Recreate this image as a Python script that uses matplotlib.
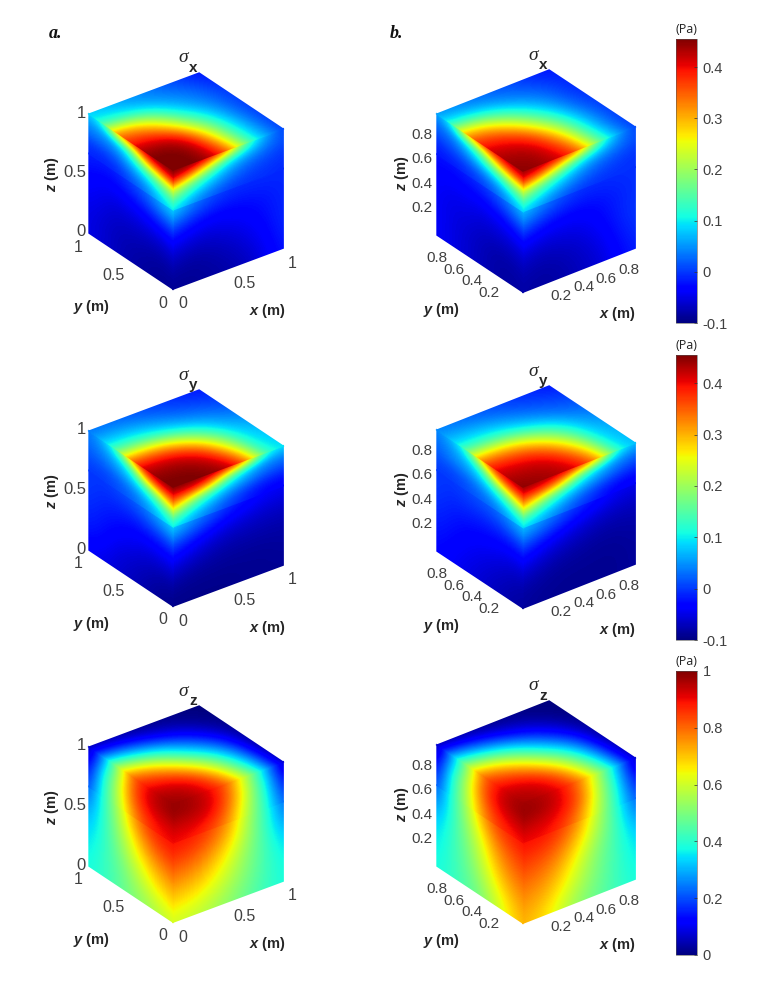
import matplotlib
matplotlib.use('Agg')
import matplotlib.pyplot as plt
import numpy as np
from matplotlib.cm import ScalarMappable
from matplotlib.colors import Normalize
from matplotlib.patches import Polygon
from matplotlib.transforms import Affine2D

plt.rcParams['font.family'] = ['Liberation Sans', 'DejaVu Sans']
plt.rcParams['mathtext.fontset'] = 'custom'
plt.rcParams['mathtext.bfit'] = 'Liberation Sans:italic:bold'
plt.rcParams['mathtext.rm'] = 'Liberation Sans:bold'

# stress read off each visible face
# side faces: rows z = 0,1/6,1/3,1/2,2/3,3/4,5/6,11/12,1 (upper part read finer)
# top faces: rows y = 0..1 in sixths; columns always in sixths
a_sx_right = [[-.09,-.09,-.085,-.08,-.07,-.045,-.02],
              [-.08,-.085,-.08,-.07,-.055,-.035,-.01],
              [-.05,-.06,-.06,-.05,-.04,-.025,-.01],
              [0,-.02,-.03,-.03,-.025,-.02,-.01],
              [.10,.05,.02,0,-.005,-.005,-.01],
              [.16,.10,.06,.03,.01,0,-.005],
              [.25,.17,.11,.06,.03,.015,0],
              [.41,.35,.23,.12,.08,.04,.01],
              [.46,.46,.43,.34,.15,.06,0]]
a_sx_left = [[-.09,-.09,-.085,-.08,-.07,-.06,-.05],
             [-.08,-.085,-.08,-.075,-.07,-.06,-.05],
             [-.05,-.06,-.06,-.06,-.06,-.05,-.04],
             [0,-.01,-.025,-.035,-.04,-.04,-.03],
             [.10,.07,.03,.01,-.01,-.015,-.01],
             [.16,.11,.07,.04,.01,0,0],
             [.25,.19,.13,.085,.04,.03,.03],
             [.41,.36,.30,.15,.09,.06,.05],
             [.46,.46,.44,.38,.32,.12,.08]]
a_sx_top = [[.46,.46,.43,.34,.15,.06,0],
            [.46,.46,.43,.31,.14,.06,0],
            [.44,.44,.40,.26,.13,.05,0],
            [.38,.37,.30,.18,.10,.04,0],
            [.32,.28,.20,.11,.06,.03,0],
            [.12,.11,.09,.06,.04,.02,-.01],
            [.08,.07,.05,.04,.02,0,-.02]]

b_sx_right = [[-.08,-.085,-.08,-.07,-.06,-.035,-.015],
              [-.075,-.08,-.075,-.065,-.05,-.025,-.005],
              [-.05,-.06,-.055,-.05,-.035,-.015,0],
              [0,-.02,-.03,-.03,-.025,-.015,-.005],
              [.09,.05,.02,0,-.005,-.005,-.005],
              [.15,.10,.06,.03,.01,0,-.005],
              [.24,.17,.11,.06,.03,.015,0],
              [.39,.34,.23,.13,.08,.04,.01],
              [.45,.44,.41,.34,.16,.06,0]]
b_sx_left = [[-.08,-.085,-.08,-.07,-.06,-.05,-.04],
             [-.075,-.08,-.08,-.07,-.06,-.05,-.04],
             [-.05,-.06,-.06,-.06,-.05,-.05,-.04],
             [0,-.02,-.035,-.04,-.04,-.04,-.035],
             [.09,.05,.02,0,-.01,-.02,-.02],
             [.15,.10,.06,.03,.01,0,-.01],
             [.24,.19,.13,.09,.05,.02,.01],
             [.39,.35,.28,.16,.10,.05,.03],
             [.45,.44,.42,.38,.30,.11,.05]]
b_sx_top = [[.45,.44,.41,.34,.16,.06,0],
            [.44,.44,.40,.31,.15,.05,0],
            [.42,.41,.37,.26,.13,.05,0],
            [.38,.36,.29,.18,.10,.03,0],
            [.30,.26,.18,.11,.06,.02,-.01],
            [.11,.10,.08,.05,.03,.01,-.01],
            [.05,.04,.03,.02,.01,-.01,-.02]]

a_sy_right = [[-.095,-.095,-.095,-.095,-.09,-.09,-.09],
              [-.085,-.09,-.09,-.09,-.09,-.09,-.085],
              [-.05,-.065,-.075,-.08,-.08,-.08,-.08],
              [0,-.02,-.04,-.055,-.06,-.065,-.065],
              [.10,.06,.03,0,-.02,-.035,-.04],
              [.17,.11,.07,.03,0,-.02,-.02],
              [.30,.20,.13,.08,.05,.02,.01],
              [.39,.39,.33,.17,.09,.05,.04],
              [.46,.46,.45,.43,.33,.12,.09]]
a_sy_left = [[-.095,-.09,-.08,-.07,-.06,-.05,-.04],
             [-.085,-.08,-.07,-.06,-.05,-.03,-.02],
             [-.05,-.05,-.05,-.04,-.03,-.02,-.01],
             [0,-.01,-.015,-.02,-.015,-.01,0],
             [.10,.07,.04,.02,.01,0,0],
             [.17,.11,.07,.04,.02,.01,.01],
             [.30,.20,.13,.08,.05,.03,.02],
             [.39,.37,.30,.13,.08,.05,.03],
             [.46,.45,.42,.33,.14,.07,.03]]
a_sy_top = [[.46,.46,.45,.43,.33,.12,.09],
            [.45,.45,.44,.40,.28,.11,.08],
            [.42,.42,.40,.34,.21,.10,.07],
            [.33,.32,.29,.21,.13,.07,.05],
            [.14,.14,.12,.09,.06,.04,.02],
            [.07,.07,.06,.04,.02,.01,0],
            [.03,.03,.02,.01,0,-.01,-.02]]

b_sy_right = [[-.085,-.09,-.09,-.09,-.09,-.09,-.085],
              [-.08,-.085,-.09,-.09,-.09,-.09,-.085],
              [-.05,-.065,-.075,-.08,-.085,-.085,-.08],
              [0,-.02,-.04,-.055,-.065,-.07,-.07],
              [.09,.06,.03,0,-.02,-.04,-.045],
              [.16,.11,.07,.03,0,-.02,-.025],
              [.29,.20,.13,.08,.05,.02,0],
              [.38,.37,.31,.16,.09,.05,.03],
              [.45,.44,.43,.40,.31,.11,.07]]
b_sy_left = [[-.085,-.08,-.07,-.06,-.05,-.04,-.03],
             [-.08,-.07,-.06,-.05,-.04,-.03,-.02],
             [-.05,-.05,-.04,-.035,-.03,-.02,-.01],
             [0,-.01,-.015,-.015,-.01,-.01,0],
             [.09,.06,.03,.02,.01,0,0],
             [.16,.11,.07,.04,.02,.01,.01],
             [.29,.20,.13,.08,.05,.04,.02],
             [.38,.36,.28,.13,.08,.05,.03],
             [.45,.43,.40,.31,.13,.07,.04]]
b_sy_top = [[.45,.44,.43,.40,.31,.11,.07],
            [.43,.43,.42,.37,.27,.10,.07],
            [.40,.39,.37,.31,.20,.09,.06],
            [.31,.30,.27,.20,.13,.07,.04],
            [.13,.13,.12,.09,.06,.03,.02],
            [.07,.07,.06,.04,.02,.01,0],
            [.04,.03,.02,.01,0,-.01,-.02]]

a_sz_right = [[.60,.59,.56,.52,.47,.42,.38],
              [.68,.67,.63,.57,.50,.43,.37],
              [.76,.75,.70,.62,.52,.43,.34],
              [.84,.83,.78,.69,.55,.42,.28],
              [.90,.89,.85,.76,.57,.41,.21],
              [.92,.92,.89,.79,.58,.40,.17],
              [.95,.95,.92,.81,.59,.38,.13],
              [.98,.97,.93,.81,.58,.35,.08],
              [.98,.96,.90,.79,.55,.30,.03]]
a_sz_left = [[.60,.57,.53,.50,.45,.41,.38],
             [.68,.65,.60,.53,.46,.41,.36],
             [.76,.73,.67,.59,.49,.40,.33],
             [.84,.82,.76,.65,.52,.40,.28],
             [.90,.89,.84,.73,.55,.40,.20],
             [.92,.91,.87,.77,.56,.39,.16],
             [.95,.94,.90,.79,.56,.37,.12],
             [.98,.96,.91,.79,.54,.32,.07],
             [.98,.95,.88,.78,.52,.25,.03]]
a_sz_top = [[.98,.96,.90,.79,.55,.30,.03],
            [.95,.94,.88,.72,.48,.27,.03],
            [.88,.85,.75,.58,.40,.22,.02],
            [.78,.70,.56,.40,.28,.15,.02],
            [.52,.44,.36,.26,.16,.07,.01],
            [.25,.22,.16,.10,.06,.02,0],
            [.03,.03,.02,.01,.01,0,0]]

b_sz_right = [[.72,.68,.60,.52,.47,.42,.38],
              [.75,.73,.66,.57,.49,.42,.36],
              [.80,.78,.72,.61,.50,.42,.34],
              [.85,.84,.79,.68,.54,.42,.28],
              [.90,.90,.86,.76,.57,.40,.20],
              [.93,.92,.89,.79,.58,.39,.16],
              [.96,.95,.91,.82,.58,.37,.12],
              [.98,.97,.92,.81,.57,.34,.07],
              [.97,.95,.90,.78,.55,.30,.03]]
b_sz_left = [[.72,.66,.58,.50,.45,.41,.38],
             [.75,.71,.64,.55,.47,.41,.36],
             [.80,.77,.70,.59,.49,.41,.34],
             [.85,.82,.76,.64,.52,.40,.28],
             [.90,.88,.84,.73,.55,.40,.20],
             [.93,.91,.87,.76,.56,.39,.16],
             [.96,.94,.90,.78,.56,.37,.12],
             [.98,.96,.90,.78,.53,.32,.07],
             [.97,.94,.87,.76,.50,.27,.03]]
b_sz_top = [[.97,.95,.90,.78,.55,.30,.03],
            [.94,.93,.87,.72,.49,.27,.03],
            [.87,.84,.74,.58,.41,.22,.02],
            [.76,.69,.56,.41,.28,.15,.02],
            [.50,.44,.36,.26,.16,.07,.01],
            [.27,.22,.16,.10,.06,.02,0],
            [.03,.03,.02,.01,.01,0,0]]

a_ticks = [0, 0.5, 1]
a_ticklabels = ['0', '0.5', '1']
b_ticks = [0.2, 0.4, 0.6, 0.8]
b_ticklabels = ['0.2', '0.4', '0.6', '0.8']
stress_ticks = [-0.1, 0, 0.1, 0.2, 0.3, 0.4]
stress_ticklabels = ['-0.1', '0', '0.1', '0.2', '0.3', '0.4']
sz_ticks = [0, 0.2, 0.4, 0.6, 0.8, 1]
sz_ticklabels = ['0', '0.2', '0.4', '0.6', '0.8', '1']
names = ['x', 'y', 'z']

W, H = 761, 985
TICK = '#404040'
LABEL = '#262626'
EPS = 0.008  # faces overlap a little so no white shows at the joins

fig = plt.figure(figsize=(W / 100, H / 100), dpi=100)
ax = fig.add_axes([0, 0, 1, 1])


def draw_face(origin, u, v, values, vmin, vmax, v0=0.0, v1=1.0):
    # piece of a cube face between v0 and v1, image laid on it by an affine map
    values = np.array(values)
    hu = 0.5 / (values.shape[1] - 1)
    hv = 0.5 * (v1 - v0) / (values.shape[0] - 1)
    tr = Affine2D(np.array([[u[0], v[0], origin[0]],
                            [u[1], v[1], origin[1]],
                            [0, 0, 1]], dtype=float))
    im = ax.imshow(values, origin='lower', extent=(-hu, 1 + hu, v0 - hv, v1 + hv),
                   cmap='jet', vmin=vmin, vmax=vmax, aspect='auto',
                   interpolation='bicubic', interpolation_stage='data',
                   transform=tr + ax.transData)
    o = np.array(origin, dtype=float)
    u, v = np.array(u, dtype=float), np.array(v, dtype=float)
    lo, hi = v0 - EPS, v1 + EPS
    im.set_clip_path(Polygon([o + v * lo - u * EPS, o + u * (1 + EPS) + v * lo,
                              o + u * (1 + EPS) + v * hi, o + v * hi - u * EPS],
                             transform=ax.transData))


def draw_side(o, u, zv, rows, vmin, vmax):
    rows = np.array(rows)
    draw_face(o, u, zv, rows[:5], vmin, vmax, 0.0, 2 / 3)
    draw_face(o, u, zv, rows[4:], vmin, vmax, 2 / 3, 1.0)


def draw_cube(o, xv, yv, zh, right, left, top, vmin, vmax, comp, style):
    o = np.array(o, dtype=float)
    xv, yv = np.array(xv, dtype=float), np.array(yv, dtype=float)
    zv = np.array([0, -zh], dtype=float)
    draw_side(o, xv, zv, right, vmin, vmax)
    draw_side(o, yv, zv, left, vmin, vmax)
    draw_face(o + zv, xv, yv, top, vmin, vmax)

    if style == 'a':
        for t, lab in zip(a_ticks, a_ticklabels):
            p = o + xv * t
            ax.text(p[0] + 5, p[1] + 15, lab, ha='left', va='center', fontsize=11.5, color=TICK)
            p = o + yv * t
            ax.text(p[0] - 6, p[1] + 14, lab, ha='right', va='center', fontsize=11.5, color=TICK)
            p = o + yv + zv * t
            ax.text(p[0] - 3, p[1] - 1, lab, ha='right', va='center', fontsize=12, color=TICK)
    else:
        for t, lab in zip(b_ticks, b_ticklabels):
            p = o + xv * t
            ax.text(p[0] + 16, p[1] + 13, lab, ha='center', va='center', fontsize=11, color=TICK)
            p = o + yv * t
            ax.text(p[0] - 17, p[1] + 12, lab, ha='center', va='center', fontsize=11, color=TICK)
            p = o + yv + zv * t
            ax.text(p[0] - 4, p[1] - 3, lab, ha='right', va='center', fontsize=11, color=TICK)

    dz = -115 if style == 'a' else -119
    ax.text(o[0] - 82, o[1] + 18, r'$\mathbfit{y}$ (m)', ha='center', va='center',
            fontsize=10.5, fontweight='bold', color=LABEL)
    ax.text(o[0] + 94, o[1] + 22, r'$\mathbfit{x}$ (m)', ha='center', va='center',
            fontsize=10.5, fontweight='bold', color=LABEL)
    ax.text(o[0] - 121, o[1] + dz, r'$\mathbfit{z}$ (m)', ha='center', va='center',
            rotation=90, fontsize=10.5, fontweight='bold', color=LABEL)
    top_v = o + zv + xv + yv
    ax.text(top_v[0] - 16, top_v[1] - 15, '\u03c3', ha='center', va='center', fontsize=14,
            style='italic', family='Liberation Serif', color=LABEL)
    ax.text(top_v[0] - 6, top_v[1] - 5, comp, ha='center', va='center', fontsize=11,
            fontweight='bold', color=LABEL)


a_xv, a_yv = (110, -41), (-84, -56)
b_xv, b_yv = (112, -44), (-86, -57)
draw_cube((173, 289), a_xv, a_yv, 119, a_sx_right, a_sx_left, a_sx_top, -0.1, 0.455, names[0], 'a')
draw_cube((523, 292), b_xv, b_yv, 121, b_sx_right, b_sx_left, b_sx_top, -0.1, 0.455, names[0], 'b')
draw_cube((173, 606), a_xv, a_yv, 119, a_sy_right, a_sy_left, a_sy_top, -0.1, 0.455, names[1], 'a')
draw_cube((523, 608), b_xv, b_yv, 121, b_sy_right, b_sy_left, b_sy_top, -0.1, 0.455, names[1], 'b')
draw_cube((173, 922), a_xv, a_yv, 119, a_sz_right, a_sz_left, a_sz_top, 0, 1, names[2], 'a')
draw_cube((523, 923), b_xv, b_yv, 121, b_sz_right, b_sz_left, b_sz_top, 0, 1, names[2], 'b')

ax.text(56, 33, 'a.', ha='center', va='center', fontsize=13, style='italic',
        fontweight='bold', family='Liberation Serif', color='#111111')
ax.text(397, 33, 'b.', ha='center', va='center', fontsize=13, style='italic',
        fontweight='bold', family='Liberation Serif', color='#111111')

ax.set_xlim(0, W)
ax.set_ylim(H, 0)
ax.axis('off')


def add_bar(top, bottom, vmin, vmax, ticks, labels):
    cax = fig.add_axes([676 / W, 1 - bottom / H, 21 / W, (bottom - top) / H])
    cb = fig.colorbar(ScalarMappable(Normalize(vmin, vmax), 'jet'), cax=cax)
    cb.set_ticks(ticks, labels=labels)
    cb.ax.tick_params(direction='in', length=2, width=0.5, pad=4, labelsize=10.5,
                      labelcolor=TICK, color='#333333')
    cb.outline.set_linewidth(0.4)
    cb.outline.set_edgecolor('#555555')
    cax.text(0.5, 1.012, '(Pa)', transform=cax.transAxes, ha='center', va='bottom',
             fontsize=9, color='#222222', family='Open Sans')


add_bar(39, 323, -0.1, 0.455, stress_ticks, stress_ticklabels)
add_bar(355, 640, -0.1, 0.455, stress_ticks, stress_ticklabels)
add_bar(671, 955, 0, 1, sz_ticks, sz_ticklabels)

fig.savefig('out.png', dpi=100)
